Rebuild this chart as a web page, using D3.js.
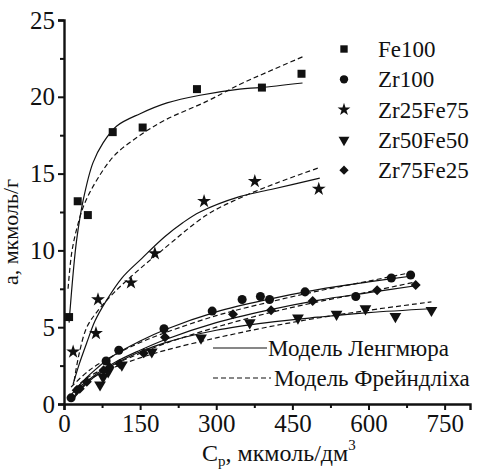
<!DOCTYPE html>
<html><head><meta charset="utf-8">
<script src="https://cdn.jsdelivr.net/npm/d3@7"></script>
<style>svg text, svg tspan{font-family:'Liberation Serif';}</style>
</head><body style="margin:0"><svg id="c" width="478" height="472" font-family="Liberation Serif"></svg>
<script>
// ---- data (C, a) ----
const xTicks = [0,150,300,450,600,750];
const yTicks = [0,5,10,15,20,25];
const seriesNames = ["Fe100","Zr100","Zr25Fe75","Zr50Fe50","Zr75Fe25"];
const fe100 = [[10,5.66],[27,13.2],[47,12.3],[96,17.7],[155,18.0],[262,20.5],[390,20.6],[468,21.5]];
const zr100 = [[14,0.4],[83,2.8],[108,3.5],[197,4.9],[292,6.05],[351,6.8],[387,7.0],[405,6.8],[475,7.3],[575,7.0],[645,8.2],[683,8.4]];
const zr25fe75 = [[18,3.4],[63,4.6],[67,6.8],[132,7.9],[179,9.8],[276,13.2],[376,14.5],[502,14.0]];
const zr50fe50 = [[71,1.25],[77,1.75],[87,2.1],[114,2.55],[173,3.4],[270,4.3],[366,5.3],[461,5.6],[537,5.85],[594,6.2],[653,5.7],[724,6.1]];
const zr75fe25 = [[25,0.9],[31,1.0],[45,1.45],[78,2.2],[90,2.4],[110,2.6],[157,3.3],[199,4.35],[333,5.85],[408,6.1],[490,6.7],[617,7.4],[693,7.75]];
// model curves
const fe100L = [[10,5.3],[18,8.5],[25,10.7],[38,13.3],[57,15.7],[77,17.0],[104,18.1],[150,18.9],[203,19.6],[268,20.1],[346,20.5],[386,20.6],[470,20.9]];
const fe100F = [[8,7.5],[15,9.8],[25,11.4],[40,13.0],[65,14.6],[100,16.2],[150,17.5],[200,18.5],[281,19.7],[346,20.8],[400,21.6],[470,22.6]];
const zr25L = [[18,1.3],[30,2.6],[45,4.0],[61,5.4],[81,6.6],[114,8.2],[154,9.5],[199,10.9],[234,11.8],[268,12.5],[346,13.5],[412,14.0],[504,14.7]];
const zr25F = [[20,1.5],[30,3.3],[45,5.0],[65,6.0],[100,7.3],[146,8.7],[193,10.0],[281,12.3],[346,13.4],[420,14.4],[504,15.4]];
const zr100L = [[14,0.6],[50,1.9],[100,3.2],[150,4.1],[200,4.85],[300,6.0],[400,6.8],[500,7.45],[600,7.95],[690,8.35]];
const zr100F = [[14,1.1],[50,2.2],[100,3.2],[150,4.0],[200,4.65],[300,5.75],[400,6.6],[500,7.35],[600,8.0],[690,8.6]];
const zr75L = [[20,0.5],[50,1.6],[100,2.7],[150,3.5],[200,4.2],[300,5.3],[400,6.1],[500,6.75],[600,7.25],[693,7.7]];
const zr75F = [[20,1.0],[50,1.8],[100,2.6],[150,3.3],[200,3.95],[300,5.0],[400,5.9],[500,6.65],[600,7.3],[693,7.95]];
const zr50L = [[20,0.4],[50,1.5],[100,2.6],[150,3.4],[200,4.0],[300,4.8],[400,5.3],[500,5.65],[600,5.95],[724,6.2]];
const zr50F = [[20,0.8],[50,1.6],[100,2.4],[150,3.0],[200,3.5],[300,4.3],[400,5.0],[500,5.6],[600,6.1],[724,6.65]];
const modelNames = ["Модель Ленгмюра","Модель Фрейндліха"];

const svg = d3.select("#c");
const x = d3.scaleLinear().domain([0,800]).range([64,470]);
const y = d3.scaleLinear().domain([0,25]).range([404,20]);
const ink = "#111";
function T(sel){ return sel.attr("font-family","Liberation Serif").style("font-family","'Liberation Serif'"); }

// curves
const line = d3.line().x(d=>x(d[0])).y(d=>y(d[1])).curve(d3.curveCatmullRom.alpha(0.5));
const g = svg.append("g");
[fe100L,zr25L,zr100L,zr75L,zr50L].forEach(s=>g.append("path").attr("d",line(s)).attr("fill","none").attr("stroke",ink).attr("stroke-width",1.2));
[fe100F,zr25F,zr100F,zr75F,zr50F].forEach(s=>g.append("path").attr("d",line(s)).attr("fill","none").attr("stroke",ink).attr("stroke-width",1.2).attr("stroke-dasharray","5,3"));

// markers
const sym = [
  {t:d3.symbolSquare,s:64,r:0},
  {t:d3.symbolCircle,s:64,r:0},
  {t:d3.symbolStar,s:60,r:0},
  {t:d3.symbolTriangle,s:60,r:180},
  {t:d3.symbolSquare,s:50,r:45}
];
const allSeries = [fe100,zr100,zr25fe75,zr50fe50,zr75fe25];
allSeries.forEach((s,i)=>{
  const p = d3.symbol().type(sym[i].t).size(sym[i].s);
  g.selectAll(null).data(s).enter().append("path").attr("d",p)
   .attr("transform",d=>`translate(${x(d[0])},${y(d[1])}) rotate(${sym[i].r})`).attr("fill",ink);
});

// axes
const xa = svg.append("g").attr("transform","translate(0,404)")
  .call(d3.axisBottom(x).tickValues(xTicks).tickSize(6).tickPadding(4).tickFormat(d3.format("d")));
const xm = svg.append("g").attr("transform","translate(0,404)")
  .call(d3.axisBottom(x).tickValues([75,225,375,525,675]).tickSize(4).tickFormat(""));
const ya = svg.append("g").attr("transform","translate(64,0)")
  .call(d3.axisLeft(y).tickValues(yTicks).tickSize(6).tickPadding(3).tickFormat(d3.format("d")));
const ym = svg.append("g").attr("transform","translate(64,0)")
  .call(d3.axisLeft(y).tickValues([2.5,7.5,12.5,17.5,22.5]).tickSize(4).tickFormat(""));
[xa,xm,ya,ym].forEach(a=>{
  T(a).attr("font-size",25);
  a.select(".domain").attr("stroke",ink).attr("stroke-width",2.4);
  a.selectAll(".tick line").attr("stroke",ink).attr("stroke-width",2);
  T(a.selectAll(".tick text")).attr("font-size",25).attr("fill",ink);
});
xm.select(".domain").remove(); ym.select(".domain").remove();

// axis titles
const xt = T(svg.append("text")).attr("x",202).attr("y",461).attr("font-size",24).attr("fill",ink);
xt.append("tspan").text("C");
xt.append("tspan").attr("dy",5).attr("font-size",15).text("p");
xt.append("tspan").attr("dy",-5).text(", мкмоль/дм");
xt.append("tspan").attr("dy",-11).attr("font-size",15).text("3");
T(svg.append("text")).attr("transform","translate(18,232) rotate(-90)").attr("text-anchor","middle")
  .attr("font-size",22).attr("fill",ink).text("a, мкмоль/г");

// legend
seriesNames.forEach((n,i)=>{
  const yy = 49 + i*30.3;
  const p = d3.symbol().type(sym[i].t).size(sym[i].s*0.85);
  svg.append("path").attr("d",p).attr("transform",`translate(344,${yy}) rotate(${sym[i].r})`).attr("fill",ink);
  T(svg.append("text")).attr("x",378).attr("y",yy+8).attr("font-size",23).attr("fill",ink).text(n);
});
modelNames.forEach((n,i)=>{
  const yy = 348 + i*30;
  svg.append("line").attr("x1",213).attr("x2",i?271:267).attr("y1",yy).attr("y2",yy)
    .attr("stroke",ink).attr("stroke-width",1.2).attr("stroke-dasharray",i?"5,3":null);
  T(svg.append("text")).attr("x",i?274:268).attr("y",yy+8).attr("font-size",23).attr("fill",ink).text(n);
});
</script></body></html>
